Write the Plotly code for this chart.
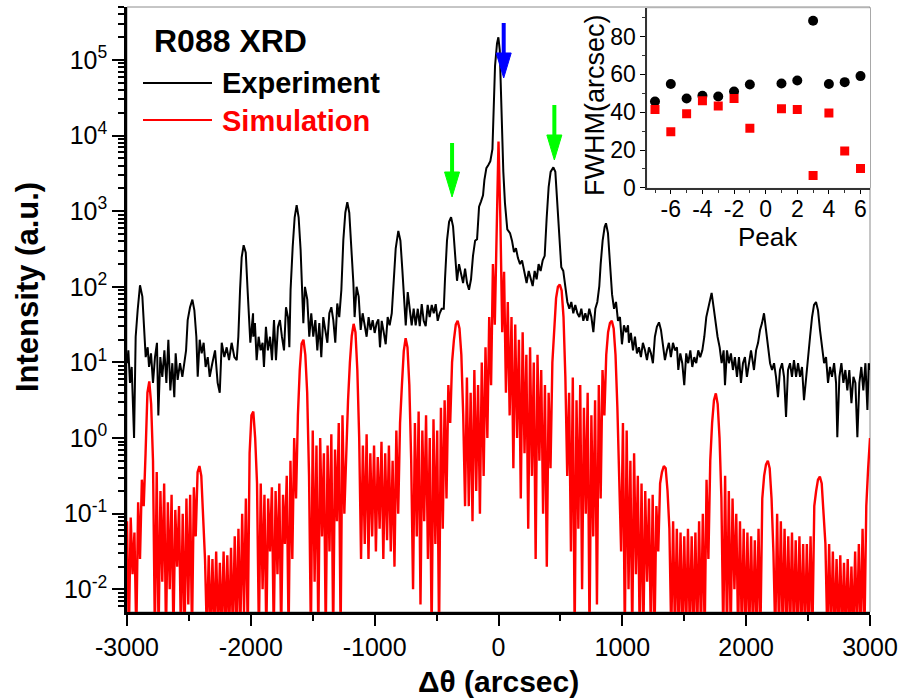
import numpy as np
import plotly.graph_objects as go

# ---- data ----
# measured XRD trace: delta theta (arcsec) and log10 of intensity
exp_theta = [
    -2998, -2989, -2976, -2962, -2943, -2930, -2914, -2895, -2876, -2860,
    -2849, -2833, -2822, -2806, -2790, -2774, -2758, -2747, -2731, -2715,
    -2698, -2682, -2666, -2650, -2634, -2618, -2607, -2591, -2572, -2553,
    -2537, -2523, -2510, -2491, -2472, -2456, -2440, -2429, -2413, -2397,
    -2381, -2365, -2348, -2332, -2311, -2289, -2268, -2251, -2235, -2214,
    -2195, -2176, -2155, -2133, -2114, -2101, -2087, -2074, -2058, -2041,
    -2025, -2004, -1982, -1980, -1967, -1953, -1937, -1921, -1905, -1894,
    -1878, -1862, -1845, -1829, -1813, -1797, -1781, -1765, -1749, -1732,
    -1716, -1700, -1689, -1679, -1662, -1646, -1630, -1614, -1598, -1587,
    -1576, -1563, -1544, -1528, -1512, -1496, -1479, -1463, -1447, -1431,
    -1415, -1399, -1382, -1366, -1350, -1334, -1318, -1302, -1286, -1269,
    -1253, -1237, -1221, -1205, -1189, -1172, -1162, -1146, -1129, -1113,
    -1097, -1081, -1065, -1049, -1033, -1016, -1000, -984, -970, -957,
    -943, -927, -911, -895, -879, -862, -846, -830, -809, -792,
    -776, -760, -749, -733, -717, -701, -685, -669, -652, -636,
    -620, -604, -588, -572, -556, -539, -523, -507, -491, -475,
    -459, -442, -432, -416, -399, -383, -367, -351, -335, -319,
    -302, -286, -270, -254, -238, -222, -206, -189, -173, -157,
    -141, -125, -114, -98, -82, -66, -49, -39, -28, -12,
    -1, 10, 25, 39, 52, 71, 93, 109, 125, 141,
    157, 174, 190, 206, 227, 244, 260, 276, 292, 308,
    324, 340, 357, 373, 389, 405, 421, 443, 459, 475,
    491, 507, 523, 540, 556, 572, 588, 604, 620, 637,
    653, 669, 685, 701, 717, 733, 750, 766, 782, 798,
    814, 825, 841, 857, 868, 884, 900, 917, 933, 949,
    965, 981, 997, 1013, 1030, 1046, 1053, 1069, 1086, 1102,
    1118, 1134, 1150, 1166, 1183, 1199, 1215, 1231, 1247, 1263,
    1279, 1296, 1312, 1328, 1344, 1360, 1376, 1392, 1409, 1425,
    1441, 1452, 1468, 1484, 1500, 1516, 1532, 1549, 1565, 1581,
    1597, 1613, 1629, 1646, 1662, 1678, 1694, 1710, 1721, 1737,
    1753, 1769, 1786, 1802, 1818, 1829, 1845, 1861, 1877, 1893,
    1909, 1926, 1942, 1958, 1974, 1990, 2006, 2022, 2039, 2055,
    2063, 2080, 2096, 2112, 2128, 2144, 2160, 2177, 2193, 2209,
    2225, 2241, 2257, 2273, 2290, 2306, 2322, 2338, 2354, 2370,
    2386, 2403, 2419, 2435, 2451, 2467, 2483, 2500, 2516, 2532,
    2548, 2564, 2580, 2596, 2613, 2629, 2645, 2661, 2677, 2693,
    2710, 2726, 2736, 2753, 2769, 2785, 2801, 2817, 2833, 2850,
    2866, 2882, 2898, 2914, 2930, 2946, 2963, 2979, 2990, 3000,
]
exp_log = [
    0.99, 1.16, 0.73, 0.94, 0.0, 1.34, 1.69, 2.02, 1.87, 1.34,
    1.07, 1.2, 0.94, 1.12, 0.73, 1.07, 1.26, 0.30, 1.07, 0.81,
    1.16, 0.73, 1.30, 0.63, 0.99, 0.54, 1.12, 0.77, 0.99, 0.81,
    0.99, 1.16, 1.56, 1.73, 1.83, 1.69, 1.34, 0.81, 1.30, 1.12,
    1.26, 0.94, 1.07, 0.81, 0.99, 1.16, 0.73, 0.60, 1.26, 1.07,
    1.2, 1.03, 1.26, 1.07, 1.03, 1.34, 1.96, 2.39, 2.55, 2.45,
    1.92, 1.26, 1.65, 1.34, 1.52, 1.03, 1.34, 1.16, 1.26, 0.94,
    1.47, 1.16, 1.34, 1.03, 1.56, 1.03, 1.47, 1.56, 1.34, 1.16,
    1.73, 1.60, 1.20, 1.96, 2.53, 2.92, 3.08, 2.92, 2.49, 1.96,
    1.52, 2.0, 1.83, 1.34, 1.65, 1.34, 1.56, 1.16, 1.52, 1.07,
    1.60, 1.43, 1.26, 1.65, 1.73, 1.56, 1.26, 1.78, 1.60, 1.96,
    2.62, 2.98, 3.12, 2.98, 2.58, 2.05, 1.60, 2.0, 1.87, 1.43,
    1.65, 1.47, 1.34, 1.60, 1.43, 1.56, 1.39, 1.52, 1.57, 1.20,
    1.55, 1.40, 1.24, 1.60, 1.49, 1.65, 2.10, 2.51, 2.74, 2.61,
    2.21, 1.76, 1.49, 1.93, 1.71, 1.49, 1.71, 1.49, 1.71, 1.48,
    1.77, 1.55, 1.48, 1.76, 1.60, 1.76, 1.65, 1.77, 1.55, 1.65,
    1.71, 1.71, 2.10, 2.61, 2.86, 2.92, 2.80, 2.41, 2.08, 2.30,
    2.16, 2.05, 2.24, 2.05, 1.96, 2.10, 2.41, 2.61, 2.63, 3.06,
    3.13, 3.21, 3.41, 3.57, 3.61, 3.66, 3.82, 4.27, 4.92, 5.22,
    5.30, 5.13, 4.2, 3.52, 3.11, 2.76, 2.71, 2.61, 2.46, 2.51,
    2.38, 2.30, 2.35, 2.21, 2.05, 2.21, 2.10, 2.01, 2.21, 2.10,
    2.30, 2.21, 2.35, 2.41, 2.91, 3.32, 3.52, 3.58, 3.52, 3.11,
    2.61, 2.26, 2.21, 2.01, 1.80, 1.71, 1.80, 1.65, 1.76, 1.65,
    1.60, 1.71, 1.55, 1.65, 1.55, 1.71, 1.60, 1.40, 1.71, 1.80,
    2.01, 2.30, 2.61, 2.79, 2.84, 2.71, 2.30, 1.90, 1.71, 1.80,
    1.55, 1.60, 1.24, 1.49, 1.40, 1.49, 1.26, 1.39, 1.16, 1.34,
    1.12, 1.20, 1.07, 1.26, 1.16, 1.03, 1.20, 1.12, 0.99, 1.34,
    1.47, 1.53, 1.43, 1.26, 1.03, 1.16, 1.26, 1.07, 1.26, 1.16,
    1.20, 0.90, 1.12, 0.99, 0.70, 1.12, 0.99, 1.16, 0.94, 1.07,
    0.99, 1.16, 1.07, 1.16, 1.34, 1.60, 1.73, 1.83, 1.92, 1.73,
    1.52, 1.34, 1.20, 0.99, 1.16, 0.70, 1.16, 0.99, 1.12, 0.90,
    1.07, 0.81, 1.07, 0.73, 0.99, 1.07, 0.81, 0.99, 1.16, 0.99,
    0.90, 1.16, 1.26, 1.43, 1.52, 1.65, 1.43, 1.26, 0.99, 0.90,
    0.99, 0.81, 0.54, 0.90, 0.99, 0.81, 0.28, 0.90, 0.99, 0.81,
    1.03, 0.81, 0.99, 0.81, 0.94, 0.50, 0.81, 1.07, 1.34, 1.60,
    1.76, 1.80, 1.69, 1.43, 1.16, 0.99, 1.07, 0.73, 0.94, 0.81,
    0.99, 0.73, 0.01, 0.81, 0.99, 0.73, 0.90, 0.63, 0.90, 0.46,
    0.81, 0.73, 0.01, 0.73, 0.94, 0.63, 0.99, 0.37, 0.99, 0.90,
]

# simulated trace, sampled every 15 arcsec from -3000 to 3000 (log10 intensity)
sim_theta = np.arange(-3000, 3001, 15)
sim_log = [
    -1.1, -2.6, -1.05, -1.8, -1.25, -2.6, -0.85, -1.6, -0.55, -0.9,
    -0.2, 0.6, 0.75, 0.45, -0.3, -2.6, -0.45, -2.6, -0.7, -1.9,
    -0.6, -2.6, -0.85, -2.0, -0.75, -2.6, -0.95, -1.7, -0.9, -2.6,
    -1.0, -2.6, -0.8, -2.2, -0.75, -2.6, -0.65, -1.3, -0.45, -0.37,
    -0.5, -1.0, -1.6, -2.6, -1.55, -2.6, -1.6, -2.6, -1.5, -2.6,
    -1.65, -2.6, -1.5, -2.6, -1.55, -2.6, -1.45, -2.6, -1.3, -2.6,
    -1.2, -2.6, -1.0, -2.3, -0.8, -2.6, -0.2, 0.3, 0.35, 0.0,
    -0.6, -2.6, -0.6, -2.0, -0.75, -2.6, -0.8, -1.5, -0.65, -2.6,
    -0.7, -1.8, -0.6, -2.6, -0.75, -1.4, -0.5, -2.6, -0.3, -1.6,
    0.0, -0.8, 0.3, 0.9, 1.25, 1.3, 1.1, 0.6, -0.5, -2.6,
    0.1, -1.9, -0.1, -2.6, 0.0, -1.3, -0.2, -2.6, -0.1, -1.5,
    0.05, -2.6, -0.15, -1.1, 0.2, -2.6, 0.3, -1.0, -0.2, 0.5,
    1.0, 1.35, 1.51, 1.4, 0.9, 0.0, -1.6, -0.1, -1.4, 0.05,
    -1.6, -0.2, -1.3, -0.1, -1.5, -0.25, -1.2, -0.05, -1.6, -0.2,
    -1.35, -0.1, -1.5, -0.3, -1.7, 0.1, -1.0, 0.2, 0.7, 1.15,
    1.32, 1.2, 0.7, -0.3, -2.0, 0.2, -1.3, 0.35, -2.2, 0.1,
    -1.1, 0.3, -1.6, 0.0, -2.6, 0.25, -1.4, 0.1, -2.6, 0.4,
    -1.2, 0.5, -0.8, 0.7, 0.2, 1.0, 1.3, 1.5, 1.55, 1.45,
    1.1, 0.3, -0.9, 0.8, -0.9, 0.6, -1.1, 0.9, -0.7, 0.7,
    -1.0, 1.0, -0.5, 1.2, 0.0, 1.6, 0.7, 2.3, 1.5, 2.8,
    3.92, 2.9, 1.4, 2.2, 0.6, 1.8, 0.3, 1.6, -0.4, 1.5,
    0.0, 1.3, -0.8, 1.4, -0.2, 1.1, -1.2, 1.2, -0.5, 1.0,
    -1.6, 1.1, -0.3, 0.9, -1.0, 0.7, -1.7, 0.6, -0.4, 1.0,
    1.5, 1.85, 2.0, 2.03, 1.95, 1.6, 0.8, -0.5, 0.6, -1.5,
    0.8, -2.6, 0.5, -1.2, 0.7, -2.0, 0.4, -1.0, 0.6, -2.6,
    0.3, -1.3, 0.5, -2.2, 0.7, -0.8, 0.9, 0.3, 1.1, 1.4,
    1.52, 1.55, 1.45, 1.1, 0.4, -0.4, -1.5, 0.2, -2.6, 0.1,
    -2.0, -0.3, -2.6, -0.2, -1.8, -0.5, -2.6, -0.6, -2.6, -0.7,
    -1.9, -0.8, -2.6, -0.75, -2.6, -0.9, -1.5, -0.6, -0.45, -0.37,
    -0.4, -0.7, -1.2, -2.6, -1.1, -2.6, -1.2, -2.6, -1.25, -2.6,
    -1.3, -2.6, -1.2, -2.6, -1.3, -2.6, -1.25, -2.6, -1.1, -2.6,
    -1.0, -2.6, -0.55, -1.6, -0.3, 0.2, 0.5, 0.59, 0.45, 0.0,
    -0.8, -2.6, -0.5, -2.6, -0.7, -2.6, -0.8, -2.0, -1.0, -2.6,
    -1.1, -2.6, -1.2, -2.6, -1.25, -2.6, -1.3, -2.6, -1.35, -2.6,
    -1.2, -2.6, -0.8, -0.5, -0.35, -0.3, -0.4, -0.8, -1.5, -2.6,
    -1.0, -2.6, -1.1, -2.6, -1.2, -2.6, -1.3, -2.6, -1.25, -2.6,
    -1.35, -2.6, -1.3, -2.6, -1.4, -2.6, -1.4, -2.6, -1.3, -2.6,
    -0.9, -0.7, -0.55, -0.51, -0.6, -1.0, -1.4, -2.6, -1.4, -2.6,
    -1.5, -2.6, -1.6, -2.6, -1.55, -2.6, -1.65, -2.6, -1.6, -2.6,
    -1.7, -2.6, -1.5, -2.6, -1.4, -2.6, -1.2, -2.6, -0.9, -0.4,
    0.0,
]

# inset: FWHM of each satellite peak
peak_no = [-7, -6, -5, -4, -3, -2, -1, 1, 2, 3, 4, 5, 6]
fwhm_exp = [45.7, 54.9, 47.3, 48.7, 48.3, 51.0, 54.7, 55.2, 56.8, 88.4, 54.9, 55.9, 59.1]
fwhm_sim = [41.5, 29.7, 39.2, 46.1, 43.3, 47.3, 31.5, 41.8, 41.5, 6.5, 39.6, 19.5, 10.2]

# arrow positions (arcsec)
blue_arrow = 42
green_arrows = [-375, 451]

FONT = "Arial, Liberation Sans, sans-serif"

# plot area in pixels, used to place decorations
L, R, T, B = 127, 870, 7, 612


def paper(px, py):
    return (px - L) / (R - L), (B - py) / (B - T)


fig = go.Figure()
fig.add_trace(go.Scatter(x=exp_theta, y=[10 ** v for v in exp_log], mode="lines",
                         line=dict(color="black", width=2), name="Experiment"))
fig.add_trace(go.Scatter(x=sim_theta, y=[10 ** v for v in sim_log], mode="lines",
                         line=dict(color="#ff0000", width=2.4), name="Simulation"))
fig.add_trace(go.Scatter(x=peak_no, y=fwhm_exp, mode="markers", xaxis="x2", yaxis="y2",
                         marker=dict(symbol="circle", size=10, color="black")))
fig.add_trace(go.Scatter(x=peak_no, y=fwhm_sim, mode="markers", xaxis="x2", yaxis="y2",
                         marker=dict(symbol="square", size=9, color="#ff0000")))

dec = list(range(-2, 6))
minor_y = [k * 10.0 ** e for e in range(-3, 6) for k in range(2, 10) if 0.005 <= k * 10.0 ** e <= 5e5]
xt = list(range(-3000, 3001, 1000))

axis_common = dict(showline=True, linecolor="black", showgrid=False, zeroline=False,
                   ticks="outside", tickcolor="black")

fig.update_layout(
    width=904, height=698,
    margin=dict(l=L, r=904 - R, t=T, b=698 - B),
    paper_bgcolor="white", plot_bgcolor="white",
    showlegend=False,
    font=dict(family=FONT, color="black"),
    xaxis=dict(axis_common, range=[-3000, 3000], domain=[0, 1], linewidth=2.5,
               tickvals=xt, ticktext=[str(v) for v in xt], ticklen=11, tickwidth=2,
               tickfont=dict(size=25),
               minor=dict(tickvals=list(range(-2500, 3000, 1000)), ticks="outside",
                          ticklen=6, tickwidth=2, tickcolor="black")),
    yaxis=dict(axis_common, type="log", range=[-2.3, 5.7], domain=[0, 1], linewidth=2.5,
               tickvals=[10.0 ** e for e in dec],
               ticktext=["10<sup>%d</sup>" % e for e in dec],
               ticklen=12, tickwidth=2, tickfont=dict(size=25),
               minor=dict(tickvals=minor_y, ticks="outside", ticklen=6, tickwidth=1.5,
                          tickcolor="black")),
    xaxis2=dict(axis_common, anchor="y2", domain=[0.700, 1.0], range=[-7.5, 6.6],
                linecolor="#333", linewidth=1.5,
                tickvals=list(range(-6, 7, 2)), ticktext=[str(v) for v in range(-6, 7, 2)],
                ticklen=4, tickwidth=1, tickfont=dict(size=23), ticklabelstandoff=-4,
                minor=dict(dtick=1, ticks="outside", ticklen=3, tickcolor="#333")),
    yaxis2=dict(axis_common, anchor="x2", domain=[0.701, 0.998], range=[0, 95],
                linecolor="#333", linewidth=1.5,
                tickvals=list(range(0, 81, 20)), ticklen=5, tickwidth=1,
                tickfont=dict(size=23),
                minor=dict(dtick=10, ticks="outside", ticklen=3, tickcolor="#333")),
)

shapes = []
# thin grey frames (top/right edges) for main plot and inset
shapes.append(dict(type="rect", xref="paper", yref="paper", x0=0, x1=1, y0=0, y1=1,
                   line=dict(color="#8c8c8c", width=1), layer="below"))
shapes.append(dict(type="rect", xref="paper", yref="paper", x0=0.700, x1=1.0, y0=0.701, y1=0.998,
                   line=dict(color="#8c8c8c", width=1), layer="below"))

# legend line samples
for py, col in [(83, "black"), (120, "#ff0000")]:
    x0, y0 = paper(143, py)
    x1, _ = paper(212, py)
    shapes.append(dict(type="line", xref="paper", yref="paper", x0=x0, x1=x1, y0=y0, y1=y0,
                       line=dict(color=col, width=2)))


def arrow(xa, top, head, tip, color):
    _, yt = paper(0, top)
    _, yh = paper(0, head)
    _, yp = paper(0, tip)
    hw = 7.5 * 6000 / (R - L)
    return [
        dict(type="line", xref="x", yref="paper", x0=xa, x1=xa, y0=yt, y1=yh - 0.005,
             line=dict(color=color, width=4)),
        dict(type="path", xref="x", yref="paper",
             path="M %f,%f L %f,%f L %f,%f Z" % (xa - hw, yh, xa + hw, yh, xa, yp),
             fillcolor=color, line=dict(color=color, width=1)),
    ]


shapes += arrow(blue_arrow, 23, 53, 78, "#0000ff")
shapes += arrow(green_arrows[0], 143, 172, 197, "#00ff00")
shapes += arrow(green_arrows[1], 105, 135, 160, "#00ff00")
fig.update_layout(shapes=shapes)


def label(text, px, py, size, bold=False, color="black", xanchor="left", angle=0):
    x, y = paper(px, py)
    fig.add_annotation(text="<b>%s</b>" % text if bold else text, x=x, y=y,
                       xref="paper", yref="paper", xanchor=xanchor, yanchor="middle",
                       textangle=angle, showarrow=False,
                       font=dict(family=FONT, size=size, color=color))


label("R088 XRD", 152, 41, 32, bold=True)
label("Experiment", 220, 83, 29, bold=True)
label("Simulation", 220, 121, 29, bold=True, color="#ff0000")
label("Intensity (a.u.)", 27, 287, 31, bold=True, xanchor="center", angle=-90)
label("\u0394\u03b8 (arcsec)", 499, 681, 30, bold=True, xanchor="center")
label("Peak", 768, 237, 26, xanchor="center")
label("FWHM(arcsec)", 595, 106, 27, xanchor="center", angle=-90)

# page body has an 8px default margin; drop it so the figure fills the window
fig.write_html("out.html", config=dict(displayModeBar=False),
               post_script="document.body.style.margin='0';")
